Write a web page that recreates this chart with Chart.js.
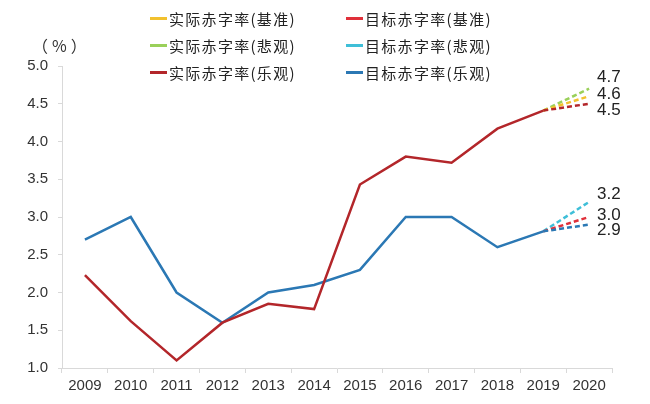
<!DOCTYPE html>
<html lang="zh">
<head>
<meta charset="UTF-8">
<title>赤字率</title>
<script src="https://cdn.jsdelivr.net/npm/chart.js@4.4.0/dist/chart.umd.min.js"></script>
<style>
    body { margin: 0; background: #fff; }
    #wrap { position: relative; width: 650px; height: 404px; }
    #unit { position: absolute; left: 32px; top: 33px; font: 16px "Noto Sans CJK SC", sans-serif; color: #333; letter-spacing: 4px; }
    #legend { position: absolute; left: 150px; top: 7px; display: grid; grid-template-columns: 196px 170px; row-gap: 5px;
              font: 15px "Noto Sans CJK SC", serif; color: #222; white-space: nowrap; letter-spacing: 1.3px; }
    #legend div { display: flex; align-items: center; height: 22px; }
    #legend span.sw { display: inline-block; width: 17px; height: 3px; margin-right: 2px; }
</style>
</head>
<body>
<div id="wrap">
    <canvas id="deficitChart" width="650" height="404"></canvas>
    <div id="unit">（%）</div>
    <div id="legend"></div>
</div>
<script>
    const years = ['2009','2010','2011','2012','2013','2014','2015','2016','2017','2018','2019','2020'];

    // 实际赤字率(乐观) - 历史 + 2020 预测
    const actualOpt  = [2.23, 1.62, 1.1, 1.6, 1.85, 1.78, 3.43, 3.8, 3.72, 4.17, 4.41, 4.5];
    // 目标赤字率(乐观)
    const targetOpt  = [2.7, 3.0, 2.0, 1.6, 2.0, 2.1, 2.3, 3.0, 3.0, 2.6, 2.81, 2.9];
    // 2019 -> 2020 预测
    const actualBase = [null, null, null, null, null, null, null, null, null, null, 4.41, 4.6];
    const actualPess = [null, null, null, null, null, null, null, null, null, null, 4.41, 4.7];
    const targetBase = [null, null, null, null, null, null, null, null, null, null, 2.81, 3.0];
    const targetPess = [null, null, null, null, null, null, null, null, null, null, 2.81, 3.2];

    const endLabels = [
        { text: '4.7', value: 4.7, dy: -11 },
        { text: '4.6', value: 4.6, dy: -2 },
        { text: '4.5', value: 4.5, dy: 7 },
        { text: '3.2', value: 3.2, dy: -8 },
        { text: '3.0', value: 3.0, dy: -2 },
        { text: '2.9', value: 2.9, dy: 6 }
    ];

    const dashLast = { borderDash: ctx => ctx.p1DataIndex === 11 ? [5, 3] : undefined };

    const datasets = [
        { label: '实际赤字率(基准)', data: actualBase, borderColor: '#f2c12e', borderDash: [5, 3], order: 3 },
        { label: '目标赤字率(基准)', data: targetBase, borderColor: '#e0303a', borderDash: [5, 3], order: 3 },
        { label: '实际赤字率(悲观)', data: actualPess, borderColor: '#9ad05a', borderDash: [5, 3], order: 3 },
        { label: '目标赤字率(悲观)', data: targetPess, borderColor: '#3fbfd8', borderDash: [5, 3], order: 3 },
        { label: '实际赤字率(乐观)', data: actualOpt, borderColor: '#b3262a', segment: dashLast, order: 1 },
        { label: '目标赤字率(乐观)', data: targetOpt, borderColor: '#2b78b4', segment: dashLast, order: 2 }
    ];
    datasets.forEach(d => { d.borderWidth = 2.5; d.pointRadius = 0; d.tension = 0; d.fill = false; });

    // legend en HTML, 3 lignes x 2 colonnes
    const legend = document.getElementById('legend');
    datasets.forEach(d => {
        const item = document.createElement('div');
        item.innerHTML = '<span class="sw" style="background:' + d.borderColor + '"></span>' + d.label;
        legend.appendChild(item);
    });

    const endLabelPlugin = {
        id: 'endLabels',
        afterDatasetsDraw(chart) {
            const ctx = chart.ctx;
            const x = chart.scales.x.getPixelForValue(11) + 8;
            ctx.save();
            ctx.font = '17px "Liberation Sans", Arial, sans-serif';
            ctx.fillStyle = '#222';
            ctx.textBaseline = 'middle';
            endLabels.forEach(l => {
                ctx.fillText(l.text, x, chart.scales.y.getPixelForValue(l.value) + l.dy);
            });
            ctx.restore();
        }
    };

    const tickFont = { family: '"Liberation Sans", Arial, sans-serif', size: 15 };

    new Chart(document.getElementById('deficitChart'), {
        type: 'line',
        data: { labels: years, datasets: datasets },
        options: {
            responsive: false,
            animation: false,
            layout: { padding: { top: 66, right: 38, left: 0, bottom: 0 } },
            plugins: { legend: { display: false }, tooltip: { enabled: false } },
            scales: {
                x: {
                    offset: true,
                    grid: { display: true, drawOnChartArea: false, offset: true, tickLength: 5, color: '#d9d9d9' },
                    border: { color: '#d9d9d9' },
                    ticks: { color: '#333', font: tickFont, padding: 4, maxRotation: 0 },
                    afterFit: s => { s.height = 36; }
                },
                y: {
                    min: 1, max: 5,
                    ticks: { stepSize: 0.5, color: '#333', font: tickFont, padding: 10,
                             callback: v => v.toFixed(1) },
                    grid: { display: true, drawOnChartArea: false, tickLength: 4, color: '#d9d9d9' },
                    border: { color: '#d9d9d9' },
                    afterFit: s => { s.width = 62; }
                }
            }
        },
        plugins: [endLabelPlugin]
    });
</script>
</body>
</html>
